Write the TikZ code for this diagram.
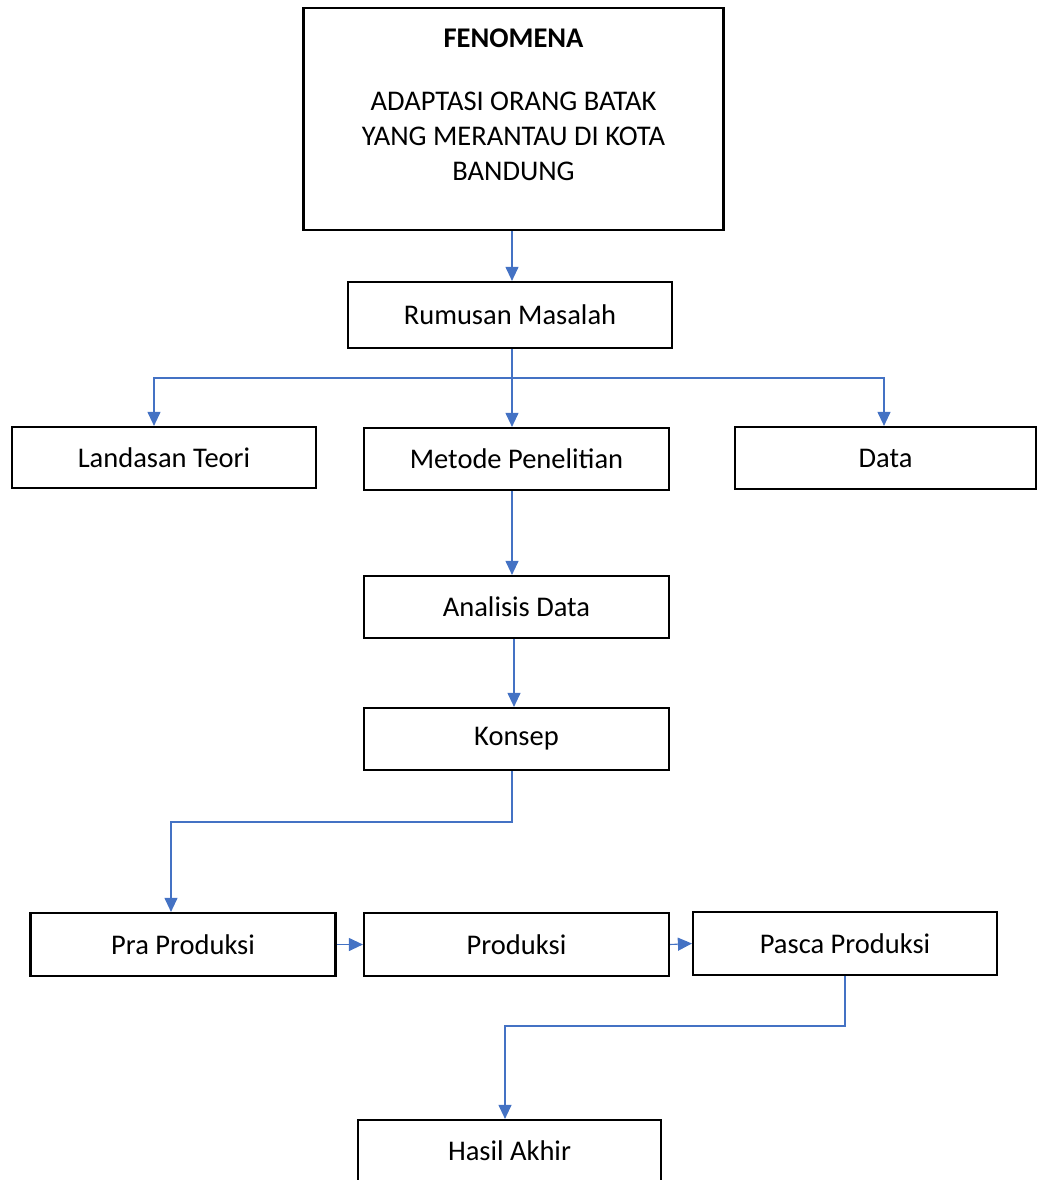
\documentclass[tikz,border=0pt]{standalone}
\usepackage{fontspec}
\setmainfont{Carlito}
\usetikzlibrary{arrows.meta}
\definecolor{panah}{RGB}{68,114,196}

\begin{document}
\begin{tikzpicture}[x=1pt, y=-1pt,
	kotak/.style={draw, rectangle, line width=2.2pt, minimum width=305pt, minimum height=62pt, inner sep=0pt, font=\fontsize{28.5}{35}\selectfont},
	alur/.style={panah, line width=1.1pt, -{Triangle[length=14pt, width=13pt]}}]

	\useasboundingbox (0,0) rectangle (1037,1180);

	% Fenomena
	\node[kotak, minimum width=420pt, minimum height=222pt] (F) at (513.5,119) {};
	\node[inner sep=0pt, align=center, anchor=north, font=\fontsize{28.5}{35}\selectfont] (Ft) at (513.5,29)
		{\textbf{FENOMENA}\\[28pt]ADAPTASI ORANG BATAK\\YANG MERANTAU DI KOTA\\BANDUNG};

	\coordinate (c1) at (512,378);
	\node[kotak, minimum width=324pt, minimum height=66pt] (R) at (510,315) {Rumusan Masalah};
	\draw[alur] (F.south -| c1) -- (R.north -| c1);

	% Ebene 1
	\node[kotak, minimum width=304pt, minimum height=61pt] (L) at (164,457.5) {Landasan Teori};
	\node[kotak] (M) at (516.5,459) {Metode Penelitian};
	\node[kotak, minimum width=301pt] (D) at (885.5,458) {Data};

	\draw[alur] (R.south -| c1) -- (M.north -| c1);
	\draw[alur] (c1) -| ([xshift=-10pt]L.north);
	\draw[alur] (c1) -| ([xshift=-1.5pt]D.north);

	% Ebene 2
	\node[kotak] (A) at (516.5,607) {Analisis Data};
	\node[kotak] (K) at (516.5,739) {Konsep};

	\draw[alur] (M.south -| c1) -- (A.north -| c1);
	\draw[alur] ([xshift=-2.5pt]A.south) -- ([xshift=-2.5pt]K.north);

	% Ebene 3
	\coordinate (c2) at (512,822);
	\node[kotak, minimum height=63pt] (P1) at (183,944.5) {Pra Produksi};
	\node[kotak, minimum height=63pt] (P2) at (516.5,944.5) {Produksi};
	\node[kotak, minimum width=304pt, minimum height=63pt] (P3) at (845,943.5) {Pasca Produksi};

	\draw[alur] (K.south -| c2) -- (c2) -| ([xshift=-12pt]P1.north);
	\draw[alur] (P1.east) -- (P2.west);
	\draw[alur] (P2.east) -- (P3.west);

	% Ebene 4
	\coordinate (c3) at (845,1026);
	\node[kotak, minimum width=303pt] (H) at (509.5,1151) {Hasil Akhir};

	\draw[alur] (P3.south) -- (c3) -| ([xshift=-4.5pt]H.north);
\end{tikzpicture}
\end{document}
